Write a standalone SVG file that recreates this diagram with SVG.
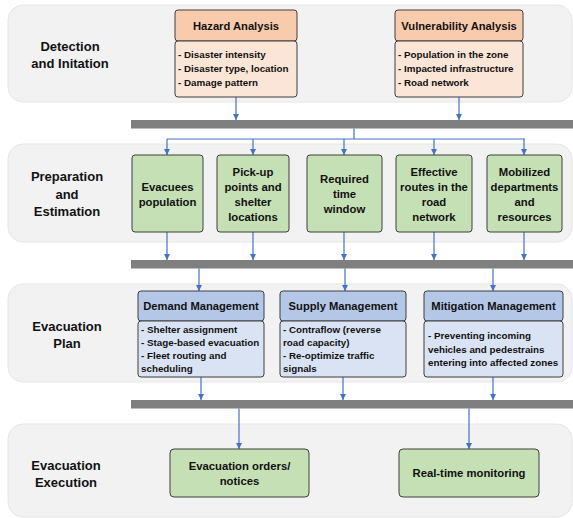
<svg xmlns="http://www.w3.org/2000/svg" width="573" height="518" viewBox="0 0 573 518">
<defs>
<style>
text{font-family:"Liberation Sans",Arial,sans-serif;font-weight:bold;fill:#111}
.stage{fill:#f2f2f2;stroke:#e6e6e6;stroke-width:1}
.lab{font-size:13px;text-anchor:middle}
.hdr{font-size:11.2px;text-anchor:middle}
.bul{font-size:9.8px}
.gt{font-size:11.3px;text-anchor:middle}
.box{stroke:#3f3f3f;stroke-width:1}
.oh{fill:#f8cbad}.ob{fill:#fbe5d6}
.g{fill:#c5e0b4}
.bh{fill:#b4c7e7}.bb{fill:#dae3f3}
.bar{fill:#7f7f7f}
.c{fill:none;stroke:#4472c4;stroke-width:1.2}
.ca{fill:none;stroke:#4472c4;stroke-width:1.2;marker-end:url(#ah)}
</style>
<marker id="ah" viewBox="0 0 6 6" refX="6" refY="3" markerWidth="6" markerHeight="6" markerUnits="userSpaceOnUse" orient="auto">
<path d="M0,0 L6,3 L0,6 z" fill="#4472c4"/>
</marker>
</defs>

<g id="stages">
<rect class="stage" x="8" y="5" width="564" height="97" rx="15"/>
<rect class="stage" x="8" y="144" width="564" height="98" rx="15"/>
<rect class="stage" x="8" y="284" width="564" height="98" rx="15"/>
<rect class="stage" x="8" y="424" width="564" height="93" rx="15"/>
<text class="lab" x="70" y="50.5">Detection</text>
<text class="lab" x="70" y="67.5">and Initation</text>
<text class="lab" x="67" y="181">Preparation</text>
<text class="lab" x="67" y="198.5">and</text>
<text class="lab" x="67" y="215.5">Estimation</text>
<text class="lab" x="67" y="330.5">Evacuation</text>
<text class="lab" x="67" y="347.5">Plan</text>
<text class="lab" x="66" y="469.5">Evacuation</text>
<text class="lab" x="66" y="486.5">Execution</text>
</g>

<g id="bars">
<rect class="bar" x="131" y="120" width="442" height="8.5"/>
<rect class="bar" x="131" y="260" width="442" height="8.5"/>
<rect class="bar" x="131" y="400" width="442" height="8.5"/>
</g>

<g id="connectors">
<path class="ca" d="M236 97 V120"/>
<path class="ca" d="M459 97 V120"/>
<path class="c" d="M354 128.5 V139 M167 139 H525"/>
<path class="ca" d="M167 139 V155"/>
<path class="ca" d="M253 139 V155"/>
<path class="ca" d="M344 139 V155"/>
<path class="ca" d="M434 139 V155"/>
<path class="ca" d="M524 139 V155"/>
<path class="ca" d="M167 232 V260"/>
<path class="ca" d="M253 232 V260"/>
<path class="ca" d="M344 232 V260"/>
<path class="ca" d="M434 232 V260"/>
<path class="ca" d="M524 232 V260"/>
<path class="ca" d="M199 268.5 V291"/>
<path class="ca" d="M345 268.5 V291"/>
<path class="ca" d="M493 268.5 V291"/>
<path class="ca" d="M201 377 V400"/>
<path class="ca" d="M343 377 V400"/>
<path class="ca" d="M493 377 V400"/>
<path class="ca" d="M239 408.5 V449"/>
<path class="ca" d="M469 408.5 V449"/>
</g>

<g id="hazard">
<rect class="box oh" x="175" y="10" width="122" height="31" rx="3"/>
<rect class="box ob" x="175" y="41" width="122" height="56" rx="3"/>
<text class="hdr" x="236" y="30">Hazard Analysis</text>
<text class="bul" x="178" y="58">- Disaster intensity</text>
<text class="bul" x="178" y="72">- Disaster type, location</text>
<text class="bul" x="178" y="86">- Damage pattern</text>
</g>

<g id="vulnerability">
<rect class="box oh" x="395" y="10" width="128" height="31" rx="3"/>
<rect class="box ob" x="395" y="41" width="128" height="56" rx="3"/>
<text class="hdr" x="459" y="30">Vulnerability Analysis</text>
<text class="bul" x="398" y="58">- Population in the zone</text>
<text class="bul" x="398" y="72">- Impacted infrastructure</text>
<text class="bul" x="398" y="86">- Road network</text>
</g>

<g id="evacuees">
<rect class="box g" x="132" y="155" width="71" height="77" rx="3"/>
<text class="gt" x="167.5" y="190.5">Evacuees</text>
<text class="gt" x="167.5" y="205.5">population</text>
</g>

<g id="pickup">
<rect class="box g" x="217" y="155" width="72" height="77" rx="3"/>
<text class="gt" x="253" y="175.5">Pick-up</text>
<text class="gt" x="253" y="190.5">points and</text>
<text class="gt" x="253" y="205.5">shelter</text>
<text class="gt" x="253" y="220.5">locations</text>
</g>

<g id="timewindow">
<rect class="box g" x="307" y="155" width="75" height="77" rx="3"/>
<text class="gt" x="344.5" y="183">Required</text>
<text class="gt" x="344.5" y="198">time</text>
<text class="gt" x="344.5" y="213">window</text>
</g>

<g id="routes">
<rect class="box g" x="396" y="155" width="76" height="77" rx="3"/>
<text class="gt" x="434" y="175.5">Effective</text>
<text class="gt" x="434" y="190.5">routes in the</text>
<text class="gt" x="434" y="205.5">road</text>
<text class="gt" x="434" y="220.5">network</text>
</g>

<g id="departments">
<rect class="box g" x="487" y="155" width="75" height="77" rx="3"/>
<text class="gt" x="524.5" y="175.5">Mobilized</text>
<text class="gt" x="524.5" y="190.5">departments</text>
<text class="gt" x="524.5" y="205.5">and</text>
<text class="gt" x="524.5" y="220.5">resources</text>
</g>

<g id="demand">
<rect class="box bh" x="138" y="291" width="126" height="30" rx="3"/>
<rect class="box bb" x="138" y="321" width="126" height="56" rx="3"/>
<text class="hdr" x="201" y="310">Demand Management</text>
<text class="bul" x="141" y="333">- Shelter assignment</text>
<text class="bul" x="141" y="346">- Stage-based evacuation</text>
<text class="bul" x="141" y="359">- Fleet routing and</text>
<text class="bul" x="141" y="372">scheduling</text>
</g>

<g id="supply">
<rect class="box bh" x="280" y="291" width="126" height="30" rx="3"/>
<rect class="box bb" x="280" y="321" width="126" height="56" rx="3"/>
<text class="hdr" x="343" y="310">Supply Management</text>
<text class="bul" x="283" y="333">- Contraflow (reverse</text>
<text class="bul" x="283" y="346">road capacity)</text>
<text class="bul" x="283" y="359">- Re-optimize traffic</text>
<text class="bul" x="283" y="372">signals</text>
</g>

<g id="mitigation">
<rect class="box bh" x="424" y="291" width="139" height="30" rx="3"/>
<rect class="box bb" x="424" y="321" width="139" height="56" rx="3"/>
<text class="hdr" x="493.5" y="310">Mitigation Management</text>
<text class="bul" x="428" y="339">- Preventing incoming</text>
<text class="bul" x="428" y="352.5">vehicles and pedestrains</text>
<text class="bul" x="428" y="366">entering into affected zones</text>
</g>

<g id="orders">
<rect class="box g" x="170" y="449" width="139" height="48" rx="4"/>
<text class="gt" x="239.5" y="469.5">Evacuation orders/</text>
<text class="gt" x="239.5" y="484.5">notices</text>
</g>

<g id="monitoring">
<rect class="box g" x="399" y="449" width="140" height="48" rx="4"/>
<text class="gt" x="469" y="476.5">Real-time monitoring</text>
</g>
</svg>
